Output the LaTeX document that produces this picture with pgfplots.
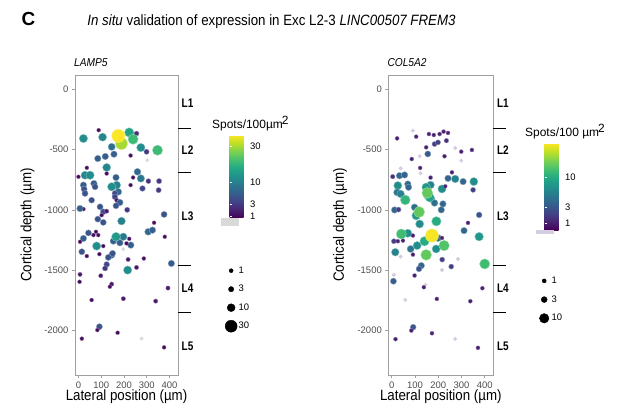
\documentclass[border=0pt]{standalone}
\usepackage{fontspec}
\setmainfont{Liberation Sans}
\newfontfamily\nar[FakeStretch=0.89]{Liberation Sans}
\newfontfamily\narb[FakeStretch=0.8]{Liberation Sans}
\usepackage{pgfplots}
\pgfplotsset{compat=1.18}
\usepackage{pgfplotstable}
\usetikzlibrary{calc}
\definecolor{tickgray}{HTML}{4D4D4D}
\definecolor{framegray}{HTML}{A0A0A0}
\definecolor{palept}{HTML}{D5CCE0}
\definecolor{palegray}{HTML}{D9D9D9}

\pgfplotstableread{
x y v
89 -339 1
255 -367 2.5
299 -518 3
156 -538 6
229 -549 1
85 -574 6
118 -557 6
37 -651 1
124 -698 1
0 -725 1
165 -731 6
259 -684 7
240 -731 1
307 -761 2.5
354 -761 3
68 -781 6
73 -808 5
22 -794 6
25 -828 5
29 -863 5
175 -850 7
160 -863 4
229 -794 1
281 -822 4
352 -836 3
160 -891 4
168 -919 1.5
58 -919 4.5
182 -938 6
165 -965 5
95 -974 5
22 -993 1
7 -988 6
214 -999 3
109 -1015 4.5
102 -1043 1
124 -1010 1.5
376 -1037 5
85 -1076 5
109 -1103 5
332 -1106 1
77 -1181 1
44 -1190 5
22 -1236 6
7 -1264 1
66 -1208 1
87 -1208 1
182 -1272 6
223 -1239 1
230 -1291 6
153 -1258 6
211 -1277 1
306 -1181 7
325 -1167 6
379 -1222 1
109 -1299 1
15 -1346 5
37 -1382 1
92 -1366 1
146 -1374 6
131 -1393 5
150 -1360 5
287 -1402 1
218 -1410 1.5
124 -1451 4
117 -1484 3
408 -1443 6
255 -1476 1.5
7 -1534 1.5
5 -1595 1
98 -1545 1.5
146 -1614 1.5
138 -1636 1
393 -1647 1.5
58 -1746 1
197 -1735 1.5
339 -1755 1.5
92 -1967 5
83 -1995 1
172 -2017 1
15 -2066 1
376 -2138 1
146 -477 8
274 -739 9
197 -1222 9
168 -794 10
189 -1092 10
106 -397 11
124 -648 11
29 -712 11
22 -408 12
274 -483 12
51 -712 12
146 -808 12
80 -1299 12
216 -1498 12
165 -1222 14
223 -358 16
240 -414 20
347 -505 20
189 -450 30
175 -386 38
}\lampdata

\pgfplotstableread{
x y
302 -587
197 -1324
277 -2066
}\lamppale

\pgfplotstableread{
x y v
23 -407 1
105 -393 1
160 -371 1
181 -379 1
206 -371 1
223 -351 1
242 -362 1
184 -454 2
199 -440 2
235 -426 1.5
148 -481 1
155 -536 3.5
86 -578 1
227 -555 1
299 -517 1
345 -503 1
122 -652 1
4 -724 1.5
33 -716 4
55 -710 4
167 -732 1
259 -688 1
242 -738 4
273 -743 6
307 -765 4
353 -765 7
26 -798 7
23 -854 5
69 -785 4
72 -812 4
38 -867 6
167 -793 6
170 -909 5
184 -942 4.5
155 -881 7
216 -826 7
230 -804 1
350 -834 2
98 -978 4.5
12 -1000 4
29 -997 2
213 -999 4
220 -950 4
376 -1041 3
328 -1107 1
120 -1116 7
69 -1193 7
9 -1259 2
26 -1259 1
48 -1254 1
91 -1212 1
109 -1295 7
81 -1323 5
199 -1232 5
191 -1323 7
216 -1232 1
15 -1350 6
91 -1370 1
311 -1171 4
217 -1411 2
127 -1461 4
117 -1488 3
256 -1469 2
7 -1590 3.5
98 -1543 1
138 -1640 1
390 -1648 1
194 -1737 1
338 -1756 1
92 -1971 3
84 -1999 1
173 -2021 1
16 -2070 1
371 -2142 1
148 -812 8
105 -1047 8
376 -1221 8
163 -896 9
192 -1094 10
141 -1259 10
58 -917 11
41 -1199 12
400 -1447 12
225 -1295 13
153 -859 14
118 -1017 14
148 -1372 14
173 -1212 22
}\coldata

\pgfplotstableread{
x y
91 -343
120 -555
273 -487
299 -591
38 -655
124 -696
38 -1386
285 -1406
216 -1497
9 -1538
145 -1621
58 -1745
273 -2068
}\colpale

\tikzset{
  layerlab/.style={anchor=west, inner sep=0pt, xshift=3.5bp, font=\narb\bfseries\fontsize{12.5}{13}\selectfont},
  layerline/.style={black, line width=0.8pt},
}

\pgfplotsset{
  colormap={vir}{HTML=(440154) HTML=(482475) HTML=(414487) HTML=(355F8D) HTML=(2A788E) HTML=(21918C) HTML=(22A884) HTML=(44BF70) HTML=(7AD151) HTML=(BDDF26) HTML=(FDE725)},
  panel/.style={
    scale only axis, width=103bp, height=300bp,
    xmin=-15, xmax=437, ymin=-2367, ymax=118,
    clip=false,
    xtick={0,100,200,300,400}, xticklabels={0,100,200,300,400},
    ytick={-2000,-1500,-1000,-500,0}, yticklabels={-2000,-1500,-1000,-500,0},
    tick pos=left, tick align=outside, major tick length=3bp,
    tick style={framegray, line width=0.6pt},
    axis line style={framegray, line width=0.8pt},
    tick label style={font=\fontsize{9.5}{10}\selectfont, text=tickgray},
    xlabel={Lateral position (µm)},
    ylabel={Cortical depth (µm)},
    every axis x label/.style={at={(axis description cs:0.5,-0.072)}, anchor=center, font=\nar\fontsize{15}{16}\selectfont},
    every axis y label/.style={at={(axis description cs:-0.46,0.5)}, rotate=90, anchor=center, font=\nar\fontsize{15}{16}\selectfont},
    every axis title/.style={at={(axis description cs:0,1)}, anchor=base west, inner sep=0pt, yshift=8bp, xshift=-1bp, font=\nar\itshape\fontsize{11.5}{12}\selectfont},
    colormap name=vir,
    colorbar,
    legend cell align=left,
    legend image code/.code={\path[draw=none,fill=none] (-6.5bp,-6.5bp) rectangle (6.5bp,6.5bp); \draw[##1] plot coordinates {(0bp,0bp)};},
  },
  cbar/.style={
    anchor=north west,
    ytick pos=both, yticklabel pos=right,
    tick align=inside, major tick length=2.5bp,
    ytick style={draw=white, line width=0.6pt},
    axis line style={draw=none},
    tick label style={font=\fontsize{9.5}{10}\selectfont, text=black},
    yticklabel style={xshift=-1bp},
  },
  sizedpts/.style={scatter, only marks, mark=*, forget plot,
    scatter src=explicit,
    scatter/use mapped color={draw=mapped color!55!white, fill=mapped color},
    scatter/@pre marker code/.append style={/tikz/mark size=\rad},
    mark options={line width=0.35pt}},
}

\begin{document}
\begin{tikzpicture}
\useasboundingbox (0,0) rectangle (628bp,412bp);

% ---------- left panel ----------
\begin{axis}[panel,
  at={(75bp,37bp)}, anchor=south west,
  title={LAMP5},
  point meta min=0.87, point meta max=6.18,
  colorbar style={cbar, at={($(parent axis.north east)+(43bp,-60bp)$)},
    width=18bp, height=83bp,
    ytick={1,1.7321,3.1623,5.4772}, yticklabels={1,3,10,30}},
  legend style={at={(axis description cs:1.451,0.37)}, anchor=north west,
    draw=none, fill=none, inner sep=0pt, row sep=5.5bp,
    font=\fontsize{9.5}{10}\selectfont, nodes={inner sep=1bp}},
]
\addlegendimage{only marks, mark=*, black, mark size=2.0bp}
\addlegendentry{1}
\addlegendimage{only marks, mark=*, black, mark size=2.66bp}
\addlegendentry{3}
\addlegendimage{only marks, mark=*, black, mark size=3.95bp}
\addlegendentry{10}
\addlegendimage{only marks, mark=*, black, mark size=6.0bp}
\addlegendentry{30}
\addplot[only marks, mark=*, mark size=1.7bp, palegray, forget plot] table[x=x,y=y] {\lamppale};
\addplot[sizedpts,
  visualization depends on={1.1+0.9*sqrt(\thisrow{v}) \as \rad}]
  table[x=x, y=y, meta expr={sqrt(\thisrow{v})}] {\lampdata};
\draw[layerline] (axis cs:437,-323) -- ++(13bp,0bp);
\draw[layerline] (axis cs:437,-685) -- ++(13bp,0bp);
\draw[layerline] (axis cs:437,-1463) -- ++(13bp,0bp);
\draw[layerline] (axis cs:437,-1846) -- ++(13bp,0bp);
\node[layerlab] at (axis cs:437,-116) {L1};
\node[layerlab] at (axis cs:437,-505) {L2};
\node[layerlab] at (axis cs:437,-1050) {L3};
\node[layerlab] at (axis cs:437,-1650) {L4};
\node[layerlab] at (axis cs:437,-2133) {L5};
\end{axis}

% ---------- right panel ----------
\begin{axis}[panel,
  at={(388.3bp,37bp)}, anchor=south west, width=105bp,
  title={COL5A2},
  point meta min=0.66, point meta max=4.73,
  colorbar style={cbar, at={($(parent axis.north east)+(42.7bp,-68.3bp)$)},
    width=18bp, height=87bp,
    ytick={1,1.7321,3.1623}, yticklabels={1,3,10}},
  legend style={at={(axis description cs:1.421,0.336)}, anchor=north west,
    draw=none, fill=none, inner sep=0pt, row sep=5.7bp,
    font=\fontsize{9.5}{10}\selectfont, nodes={inner sep=1bp}},
]
\addlegendimage{only marks, mark=*, black, mark size=2.05bp}
\addlegendentry{1}
\addlegendimage{only marks, mark=*, black, mark size=2.97bp}
\addlegendentry{3}
\addlegendimage{only marks, mark=*, black, mark size=4.75bp}
\addlegendentry{10}
\addplot[only marks, mark=*, mark size=1.8bp, palept, forget plot] table[x=x,y=y] {\colpale};
\addplot[sizedpts,
  visualization depends on={0.8+1.25*sqrt(\thisrow{v}) \as \rad}]
  table[x=x, y=y, meta expr={sqrt(\thisrow{v})}] {\coldata};
\draw[layerline] (axis cs:437,-323) -- ++(13bp,0bp);
\draw[layerline] (axis cs:437,-685) -- ++(13bp,0bp);
\draw[layerline] (axis cs:437,-1463) -- ++(13bp,0bp);
\draw[layerline] (axis cs:437,-1846) -- ++(13bp,0bp);
\node[layerlab] at (axis cs:437,-116) {L1};
\node[layerlab] at (axis cs:437,-505) {L2};
\node[layerlab] at (axis cs:437,-1050) {L3};
\node[layerlab] at (axis cs:437,-1650) {L4};
\node[layerlab] at (axis cs:437,-2133) {L5};
\end{axis}

% ---------- titles and colorbar decorations ----------
\node[anchor=base west, inner sep=0pt, font=\bfseries\fontsize{19}{22}\selectfont] at (21.5bp,386.5bp) {C};
\node[anchor=base, inner sep=0pt, font=\nar\fontsize{15}{18}\selectfont] at (271.5bp,386bp)
  {\textit{In situ} validation of expression in Exc L2-3 \textit{LINC00507 FREM3}};
\node[anchor=base west, inner sep=0pt, font=\fontsize{12}{13}\selectfont] at (212bp,283bp) {Spots/100µm\kern-1bp\raisebox{4.5bp}{2}};
\node[anchor=base west, inner sep=0pt, font=\fontsize{12}{13}\selectfont] at (525bp,275bp) {Spots/100 µm\kern-1bp\raisebox{4.5bp}{2}};
\fill[palegray] (221bp,186bp) rectangle (239bp,194bp);
\fill[palept] (536bp,177.5bp) rectangle (554bp,182bp);
\end{tikzpicture}
\end{document}
